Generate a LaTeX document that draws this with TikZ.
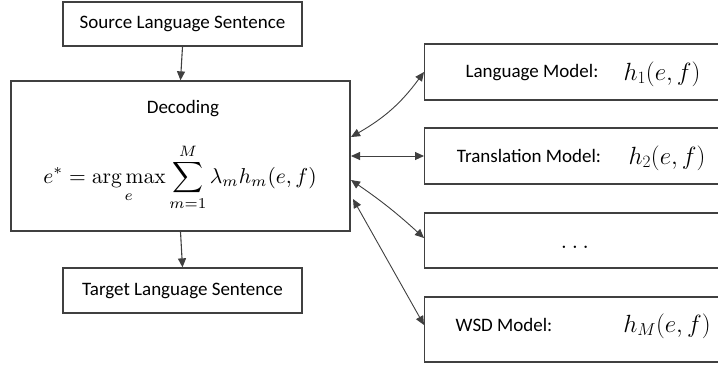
\documentclass[tikz,border=0pt]{standalone}
\usepackage[no-math]{fontspec}
\setmainfont{Carlito}
\usetikzlibrary{arrows.meta}
\begin{document}
\begin{tikzpicture}[x=1pt,y=-1pt,
  box/.style={draw=black!75,line width=1.3pt},
  lbl/.style={font=\fontsize{19}{22}\selectfont,inner sep=0pt},
  mth/.style={font=\fontsize{25}{28}\selectfont,inner sep=0pt},
  frm/.style={font=\fontsize{10}{12}\selectfont,inner sep=0pt},
  link/.style={draw=black!75,line width=0.9pt,{Triangle[length=9pt,width=8pt]}-{Triangle[length=9pt,width=8pt]}},
  flow/.style={draw=black!75,line width=1.1pt,-{Triangle[length=9pt,width=8pt]}}]
\useasboundingbox (0,0) rectangle (718,365);
\clip (0,0) rectangle (718,365);
% left column
\node[box,minimum width=239pt,minimum height=44pt] (src) at (182.5,24) {};
\node[lbl] at (src.center) {Source Language Sentence};
\node[box,minimum width=339pt,minimum height=150pt] (dec) at (180.5,156) {};
\node[lbl] at (183,109) {Decoding};
\node[frm] at (180,177) {\scalebox{2.15}{$\displaystyle e^{*}=\mathop{\arg\max}\limits_{e}\sum_{m=1}^{M}\lambda_m h_m(e,f)$}};
\node[box,minimum width=239pt,minimum height=45pt] (tgt) at (182.5,290.5) {};
\node[lbl] at (tgt.center) {Target Language Sentence};
\draw[flow] (src.south) -- (dec.north);
\draw[flow] (dec.south) -- (tgt.north);
% feature models
\node[box,minimum width=320pt,minimum height=56pt,anchor=west] (lm) at (424,72) {};
\node[lbl] at (532,73) {Language Model:};
\node[mth] at (662,74) {$h_1(e,f)$};
\node[box,minimum width=320pt,minimum height=56pt,anchor=west] (tm) at (424,156) {};
\node[lbl] at (529,156) {Translation Model:};
\node[mth] at (667,158) {$h_2(e,f)$};
\node[box,minimum width=320pt,minimum height=55pt,anchor=west] (dots) at (424,240.5) {};
\node[mth] at (575,247) {$\ldots$};
\node[box,minimum width=320pt,minimum height=65pt,anchor=west] (wsd) at (424,329.5) {};
\node[lbl] at (504,325) {WSD Model:};
\node[mth] at (667,326) {$h_M(e,f)$};
% links between decoder and models
\coordinate (d1) at (351,137);
\coordinate (d2) at (351,156);
\coordinate (d3) at (351,180);
\coordinate (d4) at (353,199);
\coordinate (m3) at (424,238);
\coordinate (m4) at (424,325);
\draw[link] (d1) to[bend right=12] (lm.west);
\draw[link] (d2) -- (tm.west);
\draw[link] (d3) to[bend left=4] (m3);
\draw[link] (d4) -- (m4);
\end{tikzpicture}
\end{document}
